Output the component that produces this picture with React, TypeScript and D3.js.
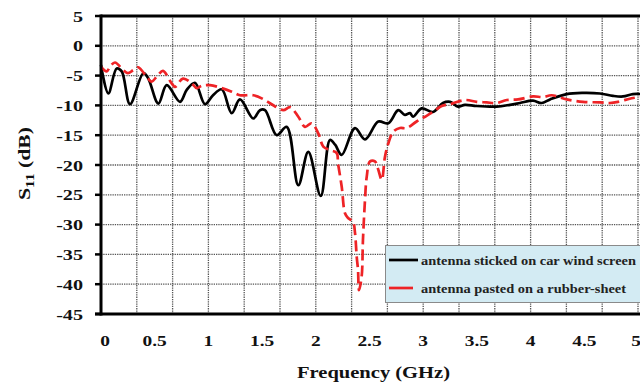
import React, { useEffect, useRef } from 'react';
import * as d3 from 'd3';

// antenna sticked on car wind screen (black, solid)
const blackFreq = [0, 0.068, 0.146, 0.193, 0.27, 0.394, 0.438, 0.534, 0.612, 0.736, 0.798, 0.875, 0.968, 1.043,
  1.124, 1.217, 1.294, 1.418, 1.48, 1.527, 1.636, 1.729, 1.837, 1.93, 2.046, 2.132, 2.18, 2.241, 2.365, 2.458,
  2.582, 2.675, 2.768, 2.83, 2.877, 2.905, 2.986, 3.091, 3.184, 3.25, 3.324, 3.389, 3.498, 3.684, 3.808, 3.901,
  4.022, 4.103, 4.181, 4.336, 4.488, 4.646, 4.767, 4.86, 4.953, 5.03];
const blackS11 = [-3.2, -8.0, -3.8, -4.3, -9.8, -4.6, -5.4, -9.7, -6.6, -9.4, -7.4, -6.2, -9.8, -8.3,
  -7.3, -11.3, -9.0, -12.2, -10.8, -10.8, -15.0, -13.6, -23.4, -17.8, -25.2, -15.8, -16.6, -18.3, -13.8, -15.7,
  -12.7, -13.0, -10.8, -11.6, -11.3, -11.9, -10.5, -11.1, -9.6, -9.4, -10.2, -9.9, -10.1, -10.2, -9.9, -9.6,
  -9.2, -9.6, -9.0, -8.1, -7.9, -8.0, -8.4, -8.5, -8.1, -8.1];

// antenna pasted on a rubber-sheet (red, dashed)
const redFreq = [0, 0.053, 0.084, 0.13, 0.208, 0.251, 0.298, 0.345, 0.438, 0.472, 0.531, 0.577, 0.658, 0.689,
  0.763, 0.845, 0.891, 0.938, 1.015, 1.124, 1.217, 1.294, 1.418, 1.527, 1.589, 1.697, 1.76, 1.837, 1.899, 1.962,
  2.023, 2.07, 2.132, 2.195, 2.207, 2.241, 2.272, 2.3, 2.346, 2.365, 2.381, 2.393, 2.402, 2.427, 2.439, 2.458,
  2.474, 2.505, 2.551, 2.582, 2.614, 2.644, 2.675, 2.722, 2.784, 2.846, 2.939, 3.017, 3.091, 3.172, 3.25, 3.389,
  3.498, 3.591, 3.684, 3.778, 3.883, 4.022, 4.115, 4.196, 4.336, 4.488, 4.646, 4.739, 4.814, 4.941, 5.03];
const redS11 = [-3.5, -4.3, -3.5, -2.8, -4.1, -4.6, -4.1, -3.6, -5.5, -6.0, -4.9, -4.2, -6.3, -6.9,
  -5.5, -6.3, -7.1, -6.7, -6.6, -7.1, -7.7, -8.3, -8.3, -9.1, -9.8, -10.8, -10.3, -11.9, -13.6, -13.0,
  -14.7, -16.9, -17.5, -18.0, -19.7, -23.6, -28.1, -28.9, -29.5, -31.4, -35.4, -37.6, -41.0, -38.7, -32.6, -25.9,
  -22.0, -19.4, -19.4, -20.8, -22.5, -18.6, -16.4, -14.4, -13.8, -13.8, -12.7, -11.9, -11.1, -10.1, -9.8, -9.1,
  -9.4, -9.5, -9.6, -9.1, -9.0, -8.5, -8.6, -8.3, -9.0, -9.4, -9.5, -9.6, -9.4, -8.8, -8.6];

const yTicks = [5, 0, -5, -10, -15, -20, -25, -30, -35, -40, -45];
const xTicks = [0, 0.5, 1, 1.5, 2, 2.5, 3, 3.5, 4, 4.5, 5];
const xTickLabels = ['0', '0.5', '1', '1.5', '2', '2.5', '3', '3.5', '4', '4.5', '5'];
const legendLabels = ['antenna sticked on car wind screen', 'antenna pasted on a rubber-sheet'];

const FONT = '"Liberation Serif", "Times New Roman", serif';

const App = () => {
  const ref = useRef<SVGSVGElement | null>(null);

  useEffect(() => {
    const svg = d3.select(ref.current);
    svg.selectAll('*').remove();

    const x = d3.scaleLinear().domain([0, 5]).range([101, 638]);
    const y = d3.scaleLinear().domain([-45, 5]).range([314, 16]);
    const right = 645;

    // grid (dotted)
    const grid = svg.append('g');
    grid.selectAll('line.h')
      .data(yTicks.filter(v => v > -45 && v < 5))
      .enter().append('line')
      .attr('x1', x(0)).attr('x2', right)
      .attr('y1', d => y(d)).attr('y2', d => y(d))
      .attr('stroke', '#555').attr('stroke-width', 1.3).attr('stroke-dasharray', '1.3,1');
    grid.selectAll('line.v')
      .data(d3.range(1, 16).map(k => k / 3))
      .enter().append('line')
      .attr('x1', d => x(d)).attr('x2', d => x(d))
      .attr('y1', y(5)).attr('y2', y(-45))
      .attr('stroke', '#555').attr('stroke-width', 1.3).attr('stroke-dasharray', '1.3,1');

    // curves
    const line = d3.line<[number, number]>()
      .x(d => x(d[0])).y(d => y(d[1]))
      .curve(d3.curveCatmullRom.alpha(0.5));

    svg.append('path')
      .datum(blackFreq.map((f, i) => [f, blackS11[i]] as [number, number]))
      .attr('d', line)
      .attr('fill', 'none').attr('stroke', '#000').attr('stroke-width', 2.7)
      .attr('stroke-linejoin', 'round');

    svg.append('path')
      .datum(redFreq.map((f, i) => [f, redS11[i]] as [number, number]))
      .attr('d', line)
      .attr('fill', 'none').attr('stroke', '#ee2326').attr('stroke-width', 2.7)
      .attr('stroke-dasharray', '11,5');

    // frame / axes
    svg.append('line').attr('x1', x(0)).attr('x2', right).attr('y1', y(5)).attr('y2', y(5))
      .attr('stroke', '#000').attr('stroke-width', 3);
    svg.append('line').attr('x1', 95).attr('x2', right).attr('y1', y(-45)).attr('y2', y(-45))
      .attr('stroke', '#000').attr('stroke-width', 3);
    svg.append('line').attr('x1', x(0)).attr('x2', x(0)).attr('y1', y(5) - 1.5).attr('y2', y(-45) + 1.5)
      .attr('stroke', '#000').attr('stroke-width', 3);
    svg.selectAll('line.yt')
      .data(yTicks)
      .enter().append('line')
      .attr('x1', 95).attr('x2', x(0))
      .attr('y1', d => y(d)).attr('y2', d => y(d))
      .attr('stroke', '#000').attr('stroke-width', 2.5);

    // y tick labels
    svg.selectAll('text.yl')
      .data(yTicks)
      .enter().append('text')
      .attr('transform', d => `translate(83,${y(d) + 5.5}) scale(1.3,1)`)
      .attr('text-anchor', 'end')
      .attr('font-family', FONT).attr('font-weight', 'bold').attr('font-size', 15.5)
      .attr('fill', '#111')
      .text(d => String(d));

    // x tick labels
    svg.selectAll('text.xl')
      .data(xTicks)
      .enter().append('text')
      .attr('transform', (d, i) => `translate(${x(d) + (i === 0 ? 4 : 0) - (i === xTicks.length - 1 ? 2 : 0)},346) scale(1.25,1)`)
      .attr('text-anchor', 'middle')
      .attr('font-family', FONT).attr('font-weight', 'bold').attr('font-size', 15.5)
      .attr('fill', '#111')
      .text((d, i) => xTickLabels[i]);

    // axis titles
    svg.append('text')
      .attr('x', 297).attr('y', 378)
      .attr('textLength', 153).attr('lengthAdjust', 'spacingAndGlyphs')
      .attr('font-family', FONT).attr('font-weight', 'bold').attr('font-size', 17)
      .attr('fill', '#111')
      .text('Frequency (GHz)');

    const yTitle = svg.append('text')
      .attr('transform', 'translate(30,200) rotate(-90)')
      .attr('textLength', 73).attr('lengthAdjust', 'spacingAndGlyphs')
      .attr('font-family', FONT).attr('font-weight', 'bold').attr('font-size', 17)
      .attr('fill', '#111');
    yTitle.append('tspan').text('S');
    yTitle.append('tspan').attr('dy', 4).attr('font-size', 12).text('11');
    yTitle.append('tspan').attr('dy', -4).text(' (dB)');

    // legend
    const lg = svg.append('g');
    lg.append('rect')
      .attr('x', 385.5).attr('y', 245.5).attr('width', 270).attr('height', 57)
      .attr('fill', '#d3ebf3').attr('stroke', '#8a8a8a').attr('stroke-width', 1);
    const swatches = [
      { color: '#000', dash: null, yy: 260, end: 418, len: 215 },
      { color: '#ee2326', dash: '25,10', yy: 288, end: 413, len: 205 },
    ];
    swatches.forEach((s, i) => {
      const l = lg.append('line')
        .attr('x1', 389).attr('x2', s.end).attr('y1', s.yy).attr('y2', s.yy)
        .attr('stroke', s.color).attr('stroke-width', 2.7);
      if (s.dash) l.attr('stroke-dasharray', s.dash);
      lg.append('text')
        .attr('x', 421).attr('y', s.yy + 4.5)
        .attr('textLength', s.len).attr('lengthAdjust', 'spacingAndGlyphs')
        .attr('font-family', FONT).attr('font-weight', 'bold').attr('font-size', 13)
        .attr('fill', '#222')
        .text(legendLabels[i]);
    });
  }, []);

  return (
    <svg ref={ref} width={640} height={389}
      style={{ position: 'absolute', left: 0, top: 0, background: '#fff' }} />
  );
};

export default App;
